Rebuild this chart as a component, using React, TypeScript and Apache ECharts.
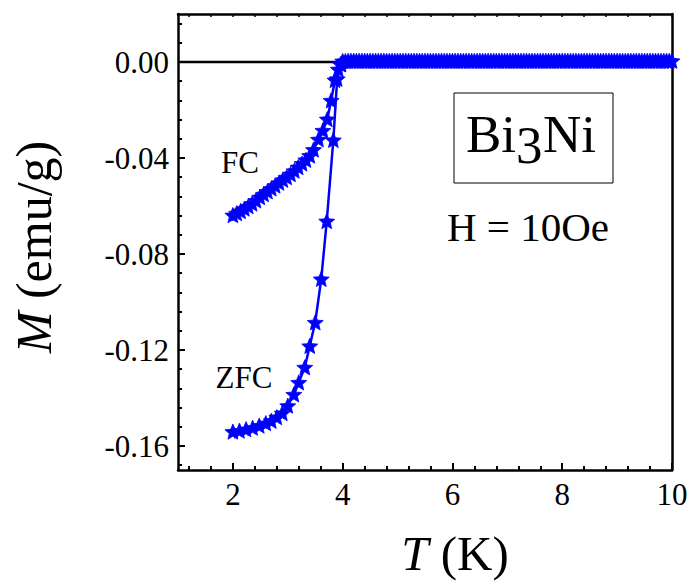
import React, { useEffect, useRef } from 'react';
import * as echarts from 'echarts';

// FC branch (below Tc)
const fcT = [2.00, 2.07, 2.14, 2.21, 2.28, 2.35, 2.42, 2.49, 2.56, 2.63, 2.70, 2.77, 2.84, 2.91, 2.98, 3.05, 3.12, 3.19, 3.26, 3.33, 3.40, 3.47, 3.56, 3.64, 3.72, 3.79, 3.86, 3.92, 3.97];
const fcM = [-0.0638, -0.0630, -0.0621, -0.0611, -0.0601, -0.0590, -0.0577, -0.0563, -0.0551, -0.0539, -0.0527, -0.0515, -0.0503, -0.0491, -0.0480, -0.0467, -0.0453, -0.0438, -0.0423, -0.0408, -0.0390, -0.0365, -0.0322, -0.0285, -0.0238, -0.0160, -0.0075, -0.0030, -0.0008];
// FC branch (normal state)
const fcHighT = [4.0, 4.1, 4.2, 4.3, 4.4, 4.5, 4.6, 4.7, 4.8, 4.9, 5.0, 5.1, 5.2, 5.3, 5.4, 5.5, 5.6, 5.7, 5.8, 5.9, 6.0, 6.1, 6.2, 6.3, 6.4, 6.5, 6.6, 6.7, 6.8, 6.9, 7.0, 7.1, 7.2, 7.3, 7.4, 7.5, 7.6, 7.7, 7.8, 7.9, 8.0, 8.1, 8.2, 8.3, 8.4, 8.5, 8.6, 8.7, 8.8, 8.9, 9.0, 9.1, 9.2, 9.3, 9.4, 9.5, 9.6, 9.7, 9.8, 9.9, 10.0];
const fcHighM = [0.0004, 0.0005, 0.0005, 0.0005, 0.0005, 0.0005, 0.0005, 0.0005, 0.0005, 0.0005, 0.0005, 0.0005, 0.0005, 0.0005, 0.0005, 0.0005, 0.0005, 0.0005, 0.0005, 0.0005, 0.0005, 0.0005, 0.0005, 0.0005, 0.0005, 0.0005, 0.0005, 0.0005, 0.0005, 0.0005, 0.0005, 0.0005, 0.0005, 0.0005, 0.0005, 0.0005, 0.0005, 0.0005, 0.0005, 0.0005, 0.0005, 0.0005, 0.0005, 0.0005, 0.0005, 0.0005, 0.0005, 0.0005, 0.0005, 0.0005, 0.0005, 0.0005, 0.0005, 0.0005, 0.0005, 0.0005, 0.0005, 0.0005, 0.0005, 0.0005, 0.0005];

// ZFC branch (below Tc)
const zfcT = [2.00, 2.12, 2.24, 2.36, 2.48, 2.60, 2.70, 2.80, 2.90, 3.00, 3.11, 3.20, 3.31, 3.40, 3.50, 3.61, 3.71, 3.83, 3.90, 3.96];
const zfcM = [-0.1540, -0.1536, -0.1530, -0.1524, -0.1515, -0.1505, -0.1495, -0.1480, -0.1463, -0.1432, -0.1385, -0.1335, -0.1272, -0.1183, -0.1085, -0.0904, -0.0663, -0.0325, -0.0070, -0.0010];
// ZFC branch (normal state)
const zfcHighT = [4.05, 4.15, 4.25, 4.35, 4.45, 4.55, 4.65, 4.75, 4.85, 4.95, 5.05, 5.15, 5.25, 5.35, 5.45, 5.55, 5.65, 5.75, 5.85, 5.95, 6.05, 6.15, 6.25, 6.35, 6.45, 6.55, 6.65, 6.75, 6.85, 6.95, 7.05, 7.15, 7.25, 7.35, 7.45, 7.55, 7.65, 7.75, 7.85, 7.95, 8.05, 8.15, 8.25, 8.35, 8.45, 8.55, 8.65, 8.75, 8.85, 8.95, 9.05, 9.15, 9.25, 9.35, 9.45, 9.55, 9.65, 9.75, 9.85, 9.95];
const zfcHighM = [0.0004, 0.0005, 0.0005, 0.0005, 0.0005, 0.0005, 0.0005, 0.0005, 0.0005, 0.0005, 0.0005, 0.0005, 0.0005, 0.0005, 0.0005, 0.0005, 0.0005, 0.0005, 0.0005, 0.0005, 0.0005, 0.0005, 0.0005, 0.0005, 0.0005, 0.0005, 0.0005, 0.0005, 0.0005, 0.0005, 0.0005, 0.0005, 0.0005, 0.0005, 0.0005, 0.0005, 0.0005, 0.0005, 0.0005, 0.0005, 0.0005, 0.0005, 0.0005, 0.0005, 0.0005, 0.0005, 0.0005, 0.0005, 0.0005, 0.0005, 0.0005, 0.0005, 0.0005, 0.0005, 0.0005, 0.0005, 0.0005, 0.0005, 0.0005, 0.0005];

// zero reference line
const zeroT = [1, 10];
const zeroM = [0, 0];

// ticks
const xMajorTicks = [2, 4, 6, 8, 10];
const xMinorTicks = [1.2, 1.6, 2.4, 2.8, 3.2, 3.6, 4.4, 4.8, 5.2, 5.6, 6.4, 6.8, 7.2, 7.6, 8.4, 8.8, 9.2, 9.6];
const yMajorTicks = [0, -0.04, -0.08, -0.12, -0.16];
const yMinorTicks = [0.016, 0.008, -0.008, -0.016, -0.024, -0.032, -0.048, -0.056, -0.064, -0.072, -0.088, -0.096, -0.104, -0.112, -0.128, -0.136, -0.144, -0.152, -0.168];

const FONT = '"Liberation Serif", "Times New Roman", serif';
const STAR = 'path://M0,-10L2.65,-3.64L9.511,-3.09L4.28,1.39L5.878,8.09L0,4.5L-5.878,8.09L-4.28,1.39L-9.511,-3.09L-2.65,-3.64Z';
const BLUE = '#0000ff';

const zip = (a: number[], b: number[]) => a.map((v, i) => [v, b[i]]);

export default function App() {
  const ref = useRef<HTMLDivElement>(null);
  useEffect(() => {
    document.body.style.margin = '0';
    if (!ref.current) return;
    const chart = echarts.init(ref.current, undefined, { renderer: 'svg' });
    const axisCommon = {
      type: 'value' as const,
      gridIndex: 0,
      splitLine: { show: false },
    };
    const option: any = {
      animation: false,
      backgroundColor: '#ffffff',
      grid: { left: 178, right: 21, top: 14, bottom: 111, containLabel: false, outerBoundsMode: 'none' },
      xAxis: [
        {
          ...axisCommon,
          position: 'bottom',
          min: 1,
          max: 10,
          axisLine: { show: true, onZero: false, lineStyle: { color: '#000', width: 2.5 } },
          axisTick: { show: true, inside: true, length: 7, lineStyle: { color: '#000', width: 2 }, customValues: xMajorTicks },
          axisLabel: { show: true, customValues: xMajorTicks, fontFamily: FONT, fontSize: 31, color: '#000', margin: 9 },
        },
        {
          ...axisCommon,
          position: 'bottom',
          min: 1,
          max: 10,
          axisLine: { show: false, onZero: false },
          axisTick: { show: true, inside: true, length: 4, lineStyle: { color: '#000', width: 2 }, customValues: xMinorTicks },
          axisLabel: { show: false },
        },
        {
          ...axisCommon,
          position: 'top',
          min: 1,
          max: 10,
          axisLine: { show: true, onZero: false, lineStyle: { color: '#000', width: 2.5 } },
          axisTick: { show: true, inside: true, length: 3, lineStyle: { color: '#000', width: 1.5 }, customValues: xMinorTicks.concat(xMajorTicks) },
          axisLabel: { show: false },
        },
      ],
      yAxis: [
        {
          ...axisCommon,
          position: 'left',
          min: -0.17,
          max: 0.02,
          axisLine: { show: true, onZero: false, lineStyle: { color: '#000', width: 2.5 } },
          axisTick: { show: true, inside: true, length: 7, lineStyle: { color: '#000', width: 2 }, customValues: yMajorTicks },
          axisLabel: {
            show: true,
            customValues: yMajorTicks,
            fontFamily: FONT,
            fontSize: 31,
            color: '#000',
            margin: 9,
            formatter: (v: number) => v.toFixed(2),
          },
        },
        {
          ...axisCommon,
          position: 'left',
          min: -0.17,
          max: 0.02,
          axisLine: { show: false, onZero: false },
          axisTick: { show: true, inside: true, length: 4, lineStyle: { color: '#000', width: 2 }, customValues: yMinorTicks },
          axisLabel: { show: false },
        },
        {
          ...axisCommon,
          position: 'right',
          min: -0.17,
          max: 0.02,
          axisLine: { show: true, onZero: false, lineStyle: { color: '#000', width: 2.5 } },
          axisTick: { show: false },
          axisLabel: { show: false },
        },
      ],
      series: [
        {
          type: 'line',
          xAxisIndex: 0,
          yAxisIndex: 0,
          data: zip(zeroT, zeroM),
          symbol: 'none',
          lineStyle: { color: '#000', width: 2.5 },
          z: 1,
          silent: true,
        },
        {
          name: 'FC',
          type: 'line',
          xAxisIndex: 0,
          yAxisIndex: 0,
          data: zip(fcT.concat(fcHighT), fcM.concat(fcHighM)),
          symbol: STAR,
          symbolSize: 16,
          symbolKeepAspect: true,
          itemStyle: { color: BLUE, borderColor: BLUE, borderWidth: 0.8 },
          lineStyle: { color: BLUE, width: 2.5 },
          z: 3,
        },
        {
          name: 'ZFC',
          type: 'line',
          xAxisIndex: 0,
          yAxisIndex: 0,
          data: zip(zfcT.concat(zfcHighT), zfcM.concat(zfcHighM)),
          symbol: STAR,
          symbolSize: 16,
          symbolKeepAspect: true,
          itemStyle: { color: BLUE, borderColor: BLUE, borderWidth: 0.8 },
          lineStyle: { color: BLUE, width: 2.5 },
          z: 3,
        },
      ],
      graphic: [
        {
          type: 'text',
          x: 34,
          y: 247,
          rotation: Math.PI / 2,
          style: {
            text: '{i|M} (emu/g)',
            fontFamily: FONT,
            fontSize: 50,
            fill: '#000',
            align: 'center',
            verticalAlign: 'middle',
            rich: { i: { fontStyle: 'italic', fontFamily: FONT, fontSize: 50, fill: '#000' } },
          },
        },
        {
          type: 'text',
          x: 455,
          y: 553,
          style: {
            text: '{i|T} (K)',
            fontFamily: FONT,
            fontSize: 49,
            fill: '#000',
            align: 'center',
            verticalAlign: 'middle',
            rich: { i: { fontStyle: 'italic', fontFamily: FONT, fontSize: 49, fill: '#000' } },
          },
        },
        {
          type: 'text',
          x: 240,
          y: 162,
          style: { text: 'FC', fontFamily: FONT, fontSize: 31, fill: '#000', align: 'center', verticalAlign: 'middle' },
        },
        {
          type: 'text',
          x: 244,
          y: 377,
          style: { text: 'ZFC', fontFamily: FONT, fontSize: 31, fill: '#000', align: 'center', verticalAlign: 'middle' },
        },
        {
          type: 'rect',
          shape: { x: 454, y: 93, width: 159, height: 90 },
          style: { fill: 'none', stroke: '#000', lineWidth: 1 },
        },
        {
          type: 'text',
          x: 466,
          y: 134,
          style: { text: 'Bi', fontFamily: FONT, fontSize: 53, fill: '#000', align: 'left', verticalAlign: 'middle' },
        },
        {
          type: 'text',
          x: 516,
          y: 145,
          style: { text: '3', fontFamily: FONT, fontSize: 53, fill: '#000', align: 'left', verticalAlign: 'middle' },
        },
        {
          type: 'text',
          x: 543,
          y: 134,
          style: { text: 'Ni', fontFamily: FONT, fontSize: 53, fill: '#000', align: 'left', verticalAlign: 'middle' },
        },
        {
          type: 'text',
          x: 528,
          y: 227,
          style: { text: 'H = 10Oe', fontFamily: FONT, fontSize: 41, fill: '#000', align: 'center', verticalAlign: 'middle' },
        },
      ],
    };
    chart.setOption(option);
    return () => chart.dispose();
  }, []);
  return <div ref={ref} style={{ width: 693, height: 581 }} />;
}
